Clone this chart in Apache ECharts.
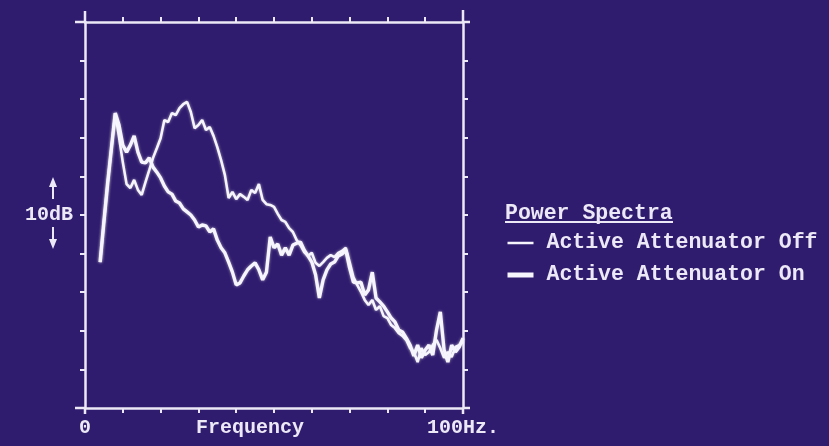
<!DOCTYPE html>
<html>
<head>
<meta charset="utf-8">
<script src="https://cdn.jsdelivr.net/npm/echarts@6/dist/echarts.min.js"></script>
<style>
html,body{margin:0;padding:0;background:#301c6e;}
#chart{width:829px;height:446px;}
</style>
</head>
<body>
<div id="chart"></div>
<script>
// Frequency (Hz)
const freq = [4,5,6,7,8,9,10,11,12,13,14,15,16,17,18,19,20,21,22,23,24,25,26,27,28,29,30,
  31,32,33,34,35,36,37,38,39,40,41,42,43,44,45,46,47,48,49,50,51,52,53,54,55,56,57,58,59,60,
  61,62,63,64,65,66,67,68,69,70,71,72,73,74,75,76,77,78,79,80,81,82,83,84,85,86,87,88,89,90,
  91,92,93,94,95,96,97,98,99,100];
// Power level (relative dB, 10 dB per division)
const attenuatorOff = [37.8,48.2,58.3,67.4,76.4,70.2,63.7,58.0,57.0,59.1,56.5,55.2,58.5,61.6,64.8,67.3,69.9,
  74.6,74.1,76.4,75.9,77.7,78.7,79.3,76.7,72.5,73.3,74.6,72.0,72.8,70.5,67.6,64.2,60.4,54.4,56.0,54.1,
  55.4,54.7,53.9,56.5,55.7,58.0,53.9,52.8,52.6,52.1,50.3,48.7,48.2,46.6,45.6,43.5,42.2,40.4,39.4,40.2,
  37.6,36.8,37.8,38.9,39.6,39.1,40.2,40.7,41.5,37.8,33.9,31.9,30.1,28.0,26.7,28.0,25.4,26.4,23.8,23.3,
  21.5,20.7,19.4,18.7,17.6,15.5,14.5,11.9,15.5,13.7,14.5,16.3,17.6,15.5,13.0,14.5,13.2,15.8,16.3,17.1];
const attenuatorOn = [37.8,48.2,58.3,67.4,76.4,73.3,68.1,66.3,68.1,70.5,66.3,63.7,63.5,64.8,62.4,61.1,59.6,
  57.5,56.0,55.4,53.6,53.1,51.6,50.8,50.0,48.7,46.9,47.4,47.2,45.6,46.4,43.5,41.5,40.2,37.8,35.2,31.9,
  32.4,34.2,35.8,36.8,37.6,35.8,33.2,35.2,44.3,41.5,42.5,39.6,41.5,39.6,42.2,42.7,43.0,40.9,39.4,37.8,
  34.5,28.5,33.2,35.8,37.3,37.8,39.4,39.9,40.9,36.3,32.6,32.4,32.6,29.3,30.6,35.2,28.5,27.5,26.4,24.9,
  23.3,22.3,20.2,19.7,18.1,16.3,13.5,16.3,13.0,15.0,16.3,13.7,20.2,24.9,15.0,11.9,16.3,14.5,15.8,18.1];
const xTicks = {min: 0, max: 100, step: 10};
const yTicks = {min: 0, max: 100, step: 10};
const seriesNames = ['Active Attenuator Off', 'Active Attenuator On'];

const FG = '#ece8f6';
const FONT = '"Liberation Mono", "DejaVu Sans Mono", monospace';

const chart = echarts.init(document.getElementById('chart'), null, {renderer: 'canvas'});

function axisBase(pos, range, label) {
  return {
    type: 'value', position: pos,
    min: range.min, max: range.max, interval: range.step,
    axisLine: {show: true, onZero: false, lineStyle: {color: FG, width: 2.5}},
    axisTick: {show: true, inside: false, length: 5, lineStyle: {color: FG, width: 2}},
    splitLine: {show: false},
    axisLabel: label || {show: false}
  };
}

const xBottom = axisBase('bottom', xTicks, {
  show: true, margin: 10, color: FG, fontFamily: FONT, fontSize: 20, fontWeight: 'bold',
  formatter: v => v === xTicks.min ? '0' : (v === xTicks.max ? '100Hz.' : '')
});
xBottom.name = 'Frequency';
xBottom.nameLocation = 'middle';
xBottom.nameGap = 10;
xBottom.nameMoveOverlap = false;
xBottom.nameTextStyle = {color: FG, fontFamily: FONT, fontSize: 20, fontWeight: 'bold', padding: [0, 48, 0, 0], verticalAlign: 'top'};

const yLeft = axisBase('left', yTicks, {
  show: true, margin: 12, color: FG, fontFamily: FONT, fontSize: 20, fontWeight: 'bold',
  formatter: v => v === 50 ? '10dB' : ''
});

const option = {
  backgroundColor: '#301c6e',
  animation: false,
  grid: {left: 85, top: 22, width: 378, height: 386, containLabel: false, outerBoundsMode: 'none'},
  title: {
    text: 'Power Spectra', left: 505, top: 203, padding: 0,
    textStyle: {color: FG, fontFamily: FONT, fontSize: 21.5, fontWeight: 'bold'}
  },
  legend: {
    orient: 'vertical', left: 505, top: 232, padding: 0, itemWidth: 26, itemHeight: 14, itemGap: 10,
    itemStyle: {opacity: 0},
    data: [
      {name: seriesNames[0], lineStyle: {width: 2.5}},
      {name: seriesNames[1], lineStyle: {width: 5}}
    ],
    textStyle: {color: FG, fontFamily: FONT, fontSize: 21.5, fontWeight: 'bold', lineHeight: 22, padding: [0, 0, 0, 8]}
  },
  xAxis: [xBottom, axisBase('top', xTicks)],
  yAxis: [yLeft, axisBase('right', yTicks)],
  series: [
    {
      name: seriesNames[0], type: 'line', xAxisIndex: 0, yAxisIndex: 0,
      symbol: 'none', smooth: false,
      lineStyle: {color: '#f6f4fc', width: 2.6, shadowColor: 'rgba(255,255,255,0.55)', shadowBlur: 3},
      itemStyle: {color: '#f6f4fc'},
      data: freq.map((f, i) => [f, attenuatorOff[i]])
    },
    {
      name: seriesNames[1], type: 'line', xAxisIndex: 1, yAxisIndex: 1,
      symbol: 'none', smooth: false,
      lineStyle: {color: '#f6f4fc', width: 3.4, shadowColor: 'rgba(255,255,255,0.55)', shadowBlur: 3},
      itemStyle: {color: '#f6f4fc'},
      data: freq.map((f, i) => [f, attenuatorOn[i]])
    }
  ]
};
chart.setOption(option);

// decorative frame overshoots, arrows and underline, positioned from the grid
function px(x, y) { return chart.convertToPixel({gridIndex: 0}, [x, y]); }
const bl = px(0, 0), tr = px(100, 100);
const L = bl[0], B = bl[1], R = tr[0], T = tr[1];
const ls = {stroke: FG, lineWidth: 2.5};
const mid = px(0, 50)[1];
chart.setOption({
  graphic: [
    {type: 'line', shape: {x1: L - 10, y1: T, x2: L, y2: T}, style: ls, silent: true},
    {type: 'line', shape: {x1: R, y1: T, x2: R + 7, y2: T}, style: ls, silent: true},
    {type: 'line', shape: {x1: L - 10, y1: B, x2: L, y2: B}, style: ls, silent: true},
    {type: 'line', shape: {x1: R, y1: B, x2: R + 7, y2: B}, style: ls, silent: true},
    {type: 'line', shape: {x1: L, y1: T - 11, x2: L, y2: T}, style: ls, silent: true},
    {type: 'line', shape: {x1: R, y1: T - 12, x2: R, y2: T}, style: ls, silent: true},
    {type: 'line', shape: {x1: L, y1: B, x2: L, y2: B + 6}, style: ls, silent: true},
    {type: 'line', shape: {x1: R, y1: B, x2: R, y2: B + 6}, style: ls, silent: true},
    // up arrow
    {type: 'line', shape: {x1: 53, y1: mid - 16, x2: 53, y2: mid - 34}, style: {stroke: FG, lineWidth: 2}, silent: true},
    {type: 'polygon', shape: {points: [[49, mid - 28], [57, mid - 28], [53, mid - 38]]}, style: {fill: FG}, silent: true},
    // down arrow
    {type: 'line', shape: {x1: 53, y1: mid + 12, x2: 53, y2: mid + 30}, style: {stroke: FG, lineWidth: 2}, silent: true},
    {type: 'polygon', shape: {points: [[49, mid + 24], [57, mid + 24], [53, mid + 34]]}, style: {fill: FG}, silent: true},
    // underline of legend title
    {type: 'line', shape: {x1: 505, y1: 222, x2: 673, y2: 222}, style: {stroke: FG, lineWidth: 2}, silent: true}
  ]
});
</script>
</body>
</html>
